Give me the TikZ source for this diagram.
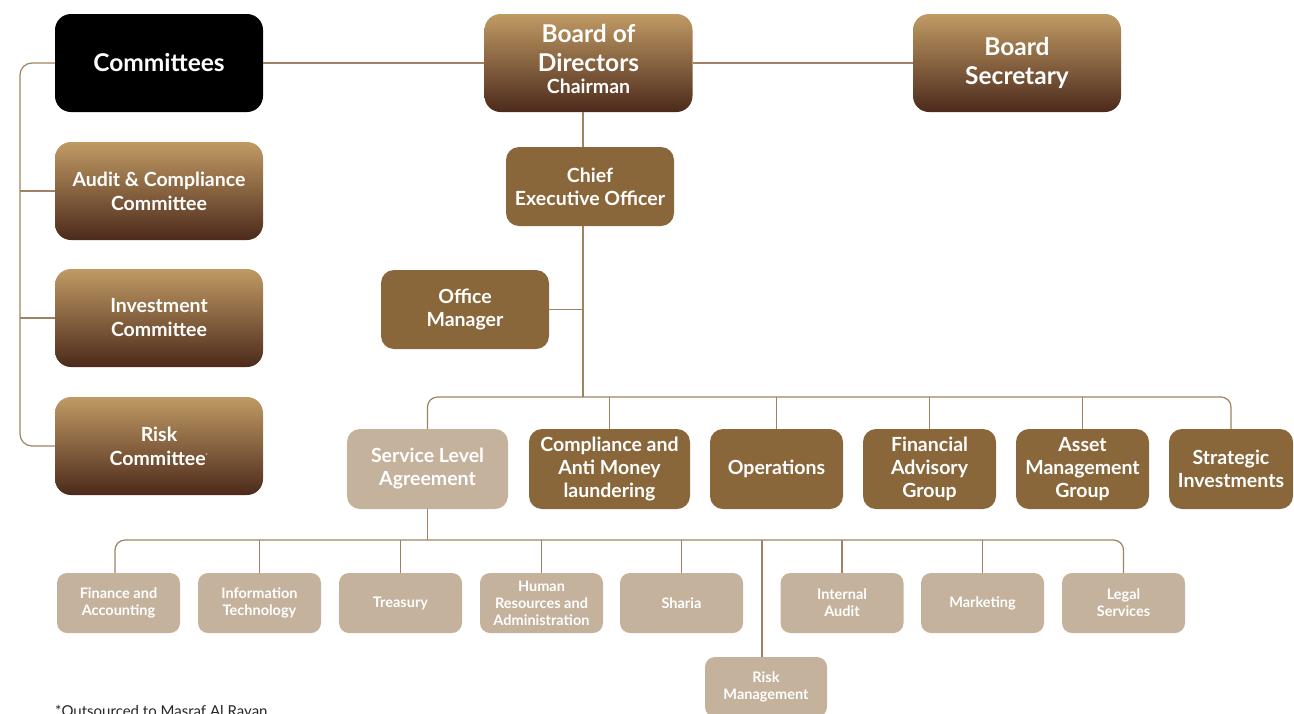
\documentclass[tikz,border=0pt]{standalone}
\usepackage{fontspec}
\setmainfont{Lato}
\definecolor{gtop}{HTML}{C09A64}
\definecolor{gbot}{HTML}{4C2A1B}
\definecolor{midbrown}{HTML}{8A673B}
\definecolor{lighttan}{HTML}{C4B29D}
\definecolor{linecol}{HTML}{9E8261}
\tikzset{
  gradbox/.style={rectangle, rounded corners=16pt, top color=gtop, bottom color=gbot, draw=none,
    text=white, font=\bfseries\fontsize{19.5}{24}\selectfont, align=center,
    minimum width=208pt, minimum height=98pt, inner sep=0pt},
  blackbox/.style={rectangle, rounded corners=16pt, fill=black, draw=none,
    text=white, font=\bfseries\fontsize{24.5}{28}\selectfont, align=center,
    minimum width=208pt, minimum height=98pt, inner sep=0pt},
  midbox/.style={rectangle, rounded corners=13pt, fill=midbrown, draw=none,
    text=white, font=\bfseries\fontsize{19.5}{23}\selectfont, align=center,
    minimum height=80pt, inner sep=0pt},
  slabox/.style={midbox, fill=lighttan},
  smallbox/.style={rectangle, rounded corners=10pt, fill=lighttan, draw=none,
    text=white, font=\bfseries\fontsize{14.5}{17}\selectfont, align=center,
    minimum width=123pt, minimum height=60pt, inner sep=0pt},
  conn/.style={draw=linecol, line width=1.2pt},
}
\begin{document}
\begin{tikzpicture}[x=1pt,y=-1pt]
\useasboundingbox (0,0) rectangle (1294,713);
\clip (0,0) rectangle (1294,713);
% top row
\node[blackbox] (comm) at (159,63) {Committees};
\node[gradbox] (bod) at (588.5,63) {};
\node[text=white, align=center, inner sep=0pt, font=\bfseries\fontsize{24.5}{29}\selectfont] (bodtxt) at ([yshift=4pt]bod.center) {Board of\\Directors\\[-7pt]\fontsize{19.5}{20}\selectfont Chairman};
\node[gradbox, font=\bfseries\fontsize{24.5}{29}\selectfont] (sec) at (1017,63) {Board\\Secretary};
% committees
\node[gradbox] (audit) at (159,191) {Audit \& Compliance\\Committee};
\node[gradbox] (inv) at (159,318) {Investment\\Committee};
\node[gradbox] (risk) at (159,446) {Risk\\Committee\textsuperscript{\tiny *}};
% CEO and office
\node[midbox, minimum width=168pt, minimum height=79pt] (ceo) at (590,186.5) {Chief\\Executive Officer};
\node[midbox, minimum width=168pt, minimum height=79pt] (office) at (465,309.5) {Office\\Manager};
% second row
\node[slabox, minimum width=161pt] (sla) at (427.5,469) {Service Level\\Agreement};
\node[midbox, minimum width=161pt] (comp) at (609.5,469) {Compliance and\\Anti Money\\laundering};
\node[midbox, minimum width=133pt] (ops) at (776.5,469) {Operations};
\node[midbox, minimum width=133pt] (fin) at (929.5,469) {Financial\\Advisory\\Group};
\node[midbox, minimum width=133pt] (asset) at (1082.5,469) {Asset\\Management\\Group};
\node[midbox, minimum width=124pt] (strat) at (1231,469) {Strategic\\Investments};
% bottom row
\node[smallbox] (fa) at (118.5,603) {Finance and\\Accounting};
\node[smallbox] (it) at (259.5,603) {Information\\Technology};
\node[smallbox] (tr) at (400.5,603) {Treasury};
\node[smallbox] (hr) at (541.5,603) {Human\\Resources and\\Administration};
\node[smallbox] (sh) at (681.5,603) {Sharia};
\node[smallbox] (ia) at (842,603) {Internal\\Audit};
\node[smallbox] (mk) at (982.5,603) {Marketing};
\node[smallbox] (ls) at (1123.5,603) {Legal\\Services};
\node[smallbox, minimum width=122pt] (rm) at (766,687) {Risk\\Management};
% footnote
\node[anchor=base west, inner sep=0pt, font=\fontsize{15}{17}\selectfont, text=black!85] (foot) at (55,716) {*Outsourced to Masraf Al Rayan};
% coordinates
\coordinate (cl) at (20,0);
\coordinate (trunk) at (583,0);
\coordinate (bus1) at (0,397);
\coordinate (bus2) at (0,540);
\coordinate (rmx) at (762,0);
% connectors
\draw[conn] (comm.east) -- (bod.west);
\draw[conn] (bod.east) -- (sec.west);
\draw[conn, rounded corners=12pt] (comm.west) -| (cl |- risk.west) -- (risk.west);
\draw[conn] (audit.west) -- (audit.west -| cl);
\draw[conn] (inv.west) -- (inv.west -| cl);
\draw[conn] (bod.south -| trunk) -- (ceo.north -| trunk);
\draw[conn] (ceo.south -| trunk) -- (trunk |- bus1);
\draw[conn] (office.east) -- (office.east -| trunk);
\draw[conn, rounded corners=10pt] (sla.north) |- (bus1 -| strat.north) -- (strat.north);
\foreach \n in {comp,ops,fin,asset} \draw[conn] (\n.north) -- (\n.north |- bus1);
\draw[conn] (sla.south) -- (sla.south |- bus2);
\draw[conn, rounded corners=10pt] ([xshift=-3.5pt]fa.north) |- (bus2 -| ls.north) -- (ls.north);
\foreach \n in {it,tr,hr,sh,ia,mk} \draw[conn] (\n.north) -- (\n.north |- bus2);
\draw[conn] (rmx |- bus2) -- (rmx |- rm.north);
\end{tikzpicture}
\end{document}
